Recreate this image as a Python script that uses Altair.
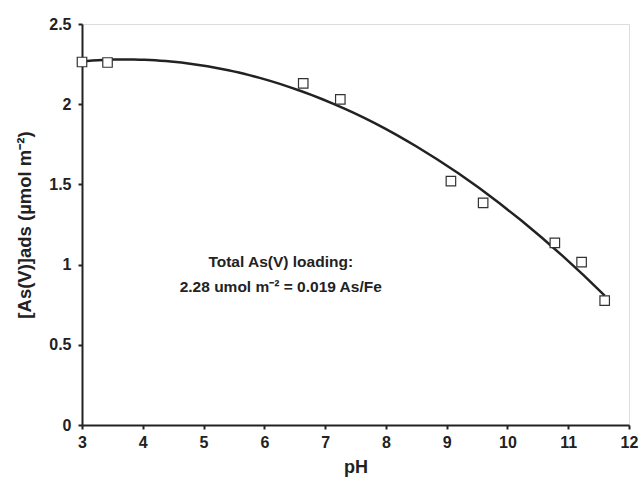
import altair as alt
import pandas as pd

ph = [3.0, 3.42, 6.64, 7.25, 9.07, 9.6, 10.78, 11.22, 11.6]
ads = [2.263, 2.26, 2.13, 2.03, 1.52, 1.385, 1.135, 1.015, 0.775]

note_x = [6.27, 6.27]
note_y = [1.016, 0.86]
note_text = ["Total As(V) loading:", "2.28 umol m\u207b\u00b2 = 0.019 As/Fe"]

df = pd.DataFrame({"pH": ph, "ads": ads})
notes = pd.DataFrame({"x": note_x, "y": note_y, "t": note_text})

FONT = "Liberation Sans"

xs = alt.Scale(domain=[3, 12], nice=False, zero=False)
ys = alt.Scale(domain=[0, 2.5], nice=False)

xax = alt.Axis(values=list(range(3, 13)), format="d", title="pH", grid=False, domainColor="#222",
               domainWidth=2, tickColor="#222", tickWidth=2, tickSize=4, labelFlush=False,
               labelFont=FONT, labelFontSize=16, labelFontWeight="bold", labelColor="#222",
               labelPadding=5, titleFont=FONT, titleFontSize=18, titleFontWeight="bold",
               titleColor="#222", titlePadding=8)
yax = alt.Axis(values=[0, 0.5, 1, 1.5, 2, 2.5], format="~g", title="[As(V)]ads (\u00b5mol m\u207b\u00b2)",
               grid=False, domainColor="#222", domainWidth=2, tickColor="#222", tickWidth=2,
               tickSize=4, labelFlush=False, labelFont=FONT, labelFontSize=16, labelFontWeight="bold",
               labelColor="#222", labelPadding=7, titleFont=FONT, titleFontSize=18.5,
               titleFontWeight="bold", titleColor="#222", titlePadding=14)

base = alt.Chart(df)

curve = base.transform_regression("pH", "ads", method="poly", order=2, extent=[3.0, 11.6]).mark_line(
    color="#222", strokeWidth=2.5
).encode(x=alt.X("pH:Q", scale=xs, axis=xax), y=alt.Y("ads:Q", scale=ys, axis=yax))

pts = base.mark_point(shape="square", size=90, filled=False, color="#333", strokeWidth=1.2,
                      fill="white", fillOpacity=1).encode(
    x=alt.X("pH:Q", scale=xs), y=alt.Y("ads:Q", scale=ys))

txt = alt.Chart(notes).mark_text(font=FONT, fontSize=15.5, fontWeight="bold", color="#222").encode(
    x=alt.X("x:Q", scale=xs), y=alt.Y("y:Q", scale=ys), text="t:N")

chart = alt.layer(curve, pts, txt).properties(
    width=547, height=401,
    autosize=alt.AutoSizeParams(type="none"),
    padding={"left": 82, "top": 24, "right": 15, "bottom": 56},
).configure_view(stroke="#555", strokeWidth=1).configure(background="white")

chart.save("out.html", embed_options={"renderer": "svg", "actions": False})
